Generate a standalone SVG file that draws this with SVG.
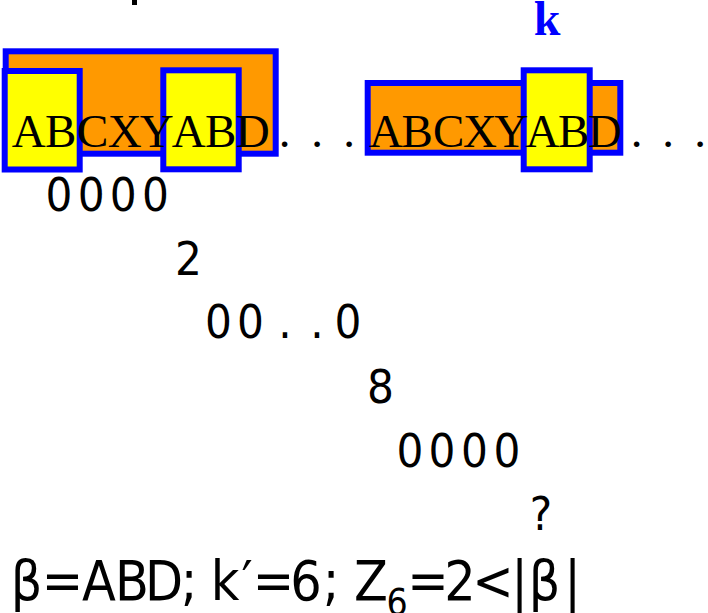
<svg xmlns="http://www.w3.org/2000/svg" width="708" height="613" viewBox="0 0 708 613">
<style>
.orange{fill:#FF9900;stroke:#0000FF;stroke-width:6}
.yellow{fill:#FFFF00;stroke:#0000FF;stroke-width:6}
.mono{font-family:"Liberation Serif","DejaVu Serif",serif;font-size:47px;fill:#000;text-anchor:middle}
.kb{font-family:"Liberation Serif","DejaVu Serif",serif;font-size:48px;font-weight:bold;fill:#0000FF;text-anchor:middle}
.num{font-family:"DejaVu Sans Condensed","DejaVu Sans","Liberation Sans",sans-serif;font-size:47px;fill:#000;text-anchor:middle}
.eq{font-family:"DejaVu Sans Condensed","DejaVu Sans","Liberation Sans",sans-serif;font-size:55px;fill:#000;text-anchor:middle}
.sub{font-size:37px}
</style>
<rect width="708" height="613" fill="#FFFFFF"/>
<rect x="132" y="0" width="5" height="5" fill="#000"/>
<g id="window1">
<rect class="orange" x="5.7" y="51.3" width="270" height="102.4"/>
</g>
<g id="alpha1">
<rect class="yellow" x="4.7" y="71" width="75" height="98.5"/>
</g>
<g id="alpha2">
<rect class="yellow" x="163.3" y="70.3" width="75.4" height="99"/>
</g>
<g id="window2">
<rect class="orange" x="367.7" y="83" width="252.6" height="69.7"/>
</g>
<g id="alpha3">
<rect class="yellow" x="523.7" y="70.3" width="66" height="99"/>
</g>
<g id="connectors"></g>
<g id="labels">
<text class="mono" x="28.7 60.7 92.7 124.7 156.7 188.7 220.7 252.7 284.5 317 349 386 417.3 448.6 479.9 511.2 542.5 573.8 605.1 636.5 668 700" y="147">ABCXYABD...ABCXYABD...</text>
<text class="kb" x="547" y="35">k</text>
<text class="num" x="59 91.2 123.3 155.5" y="211">0000</text>
<text class="num" x="188.5" y="275">2</text>
<text class="num" x="218.5 250.5 285 317 348" y="338">00..0</text>
<text class="num" x="380.5" y="403">8</text>
<text class="num" x="410 442 474.5 507" y="467">0000</text>
<text class="num" x="541" y="530">?</text>
<text class="eq" y="600"><tspan x="26.5">β</tspan><tspan x="62.5">=</tspan><tspan x="99">A</tspan><tspan x="132">B</tspan><tspan x="164">D</tspan><tspan x="189">;</tspan><tspan x="225">k</tspan><tspan x="247">′</tspan><tspan x="273.5">=</tspan><tspan x="306">6</tspan><tspan x="331">;</tspan><tspan x="371">Z</tspan><tspan class="sub" x="397" y="615">6</tspan><tspan x="428" y="600">=</tspan><tspan x="460">2</tspan><tspan x="493">&lt;</tspan><tspan x="519.5">|</tspan><tspan x="544.5">β</tspan><tspan x="572.5">|</tspan></text>
</g>
</svg>
